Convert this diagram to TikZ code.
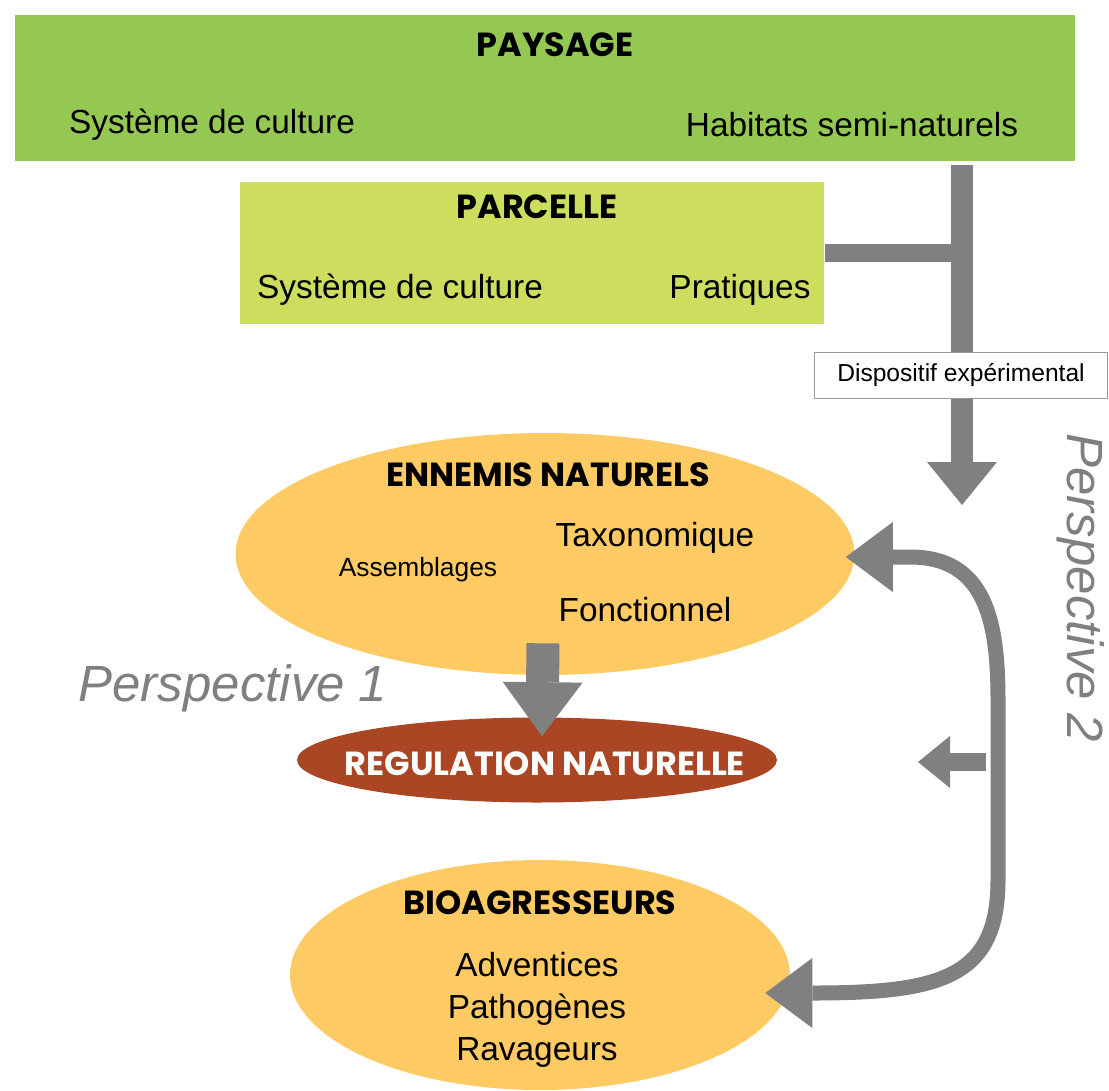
\documentclass[tikz,border=0pt]{standalone}
\usepackage{fontspec}
\setmainfont{Liberation Sans}
\newfontfamily\headfont{Poppins}
\usepackage{tikz}
\usetikzlibrary{shapes.geometric, arrows.meta, positioning, calc}
\definecolor{paysgreen}{RGB}{148, 200, 83}
\definecolor{parcgreen}{RGB}{205, 222, 95}
\definecolor{ennorange}{RGB}{253, 202, 100}
\definecolor{regulbrown}{RGB}{170, 70, 35}
\definecolor{arrowgrey}{RGB}{128, 128, 128}
\tikzstyle{level} = [rectangle, inner sep=0pt]
\tikzstyle{blob} = [ellipse, inner sep=0pt]
\tikzstyle{head} = [font=\headfont\bfseries\fontsize{19}{22}\selectfont]
\tikzstyle{item} = [font=\fontsize{19}{24}\selectfont, align=center]
\tikzstyle{persp} = [text=arrowgrey, font=\itshape\fontsize{29}{33}\selectfont]
\tikzstyle{trunk} = [arrowgrey, line width=0.44cm, -{Triangle[length=0.86cm, width=1.4cm, line width=0pt]}]
\tikzstyle{branch} = [arrowgrey, line width=0.36cm]
\tikzstyle{bigarrow} = [arrowgrey, line width=0.66cm, -{Triangle[length=1.08cm, width=1.6cm, line width=0pt]}]
\tikzstyle{smallarrow} = [arrowgrey, line width=0.36cm, -{Triangle[length=0.64cm, width=1.04cm, line width=0pt]}]
\tikzstyle{twoway} = [arrowgrey, line width=0.3cm, {Triangle[length=0.94cm, width=1.4cm, line width=0pt]}-{Triangle[length=0.94cm, width=1.4cm, line width=0pt]}]

\begin{document}
\begin{tikzpicture}[x=0.02cm, y=-0.02cm]
    \useasboundingbox (0,0) rectangle (1109,1090);

    % Paysage
    \node[level, fill=paysgreen, minimum width=21.2cm, minimum height=2.94cm] (paysage) at (545,88) {};
    \node[head] (paysT) at (555,45) {PAYSAGE};
    \node[item] (paysC) at (212,125) {Système de culture};
    \node[item] (paysH) at (852,125) {Habitats semi-naturels};

    % Parcelle
    \node[level, fill=parcgreen, minimum width=11.7cm, minimum height=2.86cm] (parcelle) at (532,253) {};
    \node[head] (parcT) at (537,207) {PARCELLE};
    \node[item] (parcC) at (400,290) {Système de culture};
    \node[item] (parcP) at (740,290) {Pratiques};

    % Dispositif
    \coordinate (top) at (962,165);
    \coordinate (tipA) at (962,505);
    \draw[trunk] (top) -- (tipA);
    \draw[branch] (parcelle.east) -- (parcelle.east -| top);
    \node[level, draw=arrowgrey!80, fill=white, minimum width=5.86cm, minimum height=0.92cm, font=\fontsize{14}{17}\selectfont] (dispo) at (961,375) {Dispositif expérimental};

    % Ennemis naturels
    \node[blob, fill=ennorange, minimum width=12.38cm, minimum height=4.84cm] (ennemis) at (545,554) {};
    \node[head] (ennT) at (548,475) {ENNEMIS NATURELS};
    \node[item] (ennTax) at (655,538) {Taxonomique};
    \node[font=\fontsize{15}{18}\selectfont] (ennAss) at (418,570) {Assemblages};
    \node[item] (ennFon) at (645,610) {Fonctionnel};

    % Regulation
    \node[blob, fill=regulbrown, minimum width=9.6cm, minimum height=1.7cm] (regul) at (537,760) {};
    \node[head, text=white] (regT) at (545,764) {REGULATION NATURELLE};
    \draw[bigarrow] ($(ennemis.south)+(-2,-32)$) -- ($(regul.north)+(5,19)$);

    % Bioagresseurs
    \node[blob, fill=ennorange, minimum width=10cm, minimum height=4.6cm] (bio) at (540,975) {};
    \node[head] (bioT) at (540,903) {BIOAGRESSEURS};
    \node[item] (bioL) at (537,1010) {Adventices\\Pathogènes\\Ravageurs};

    % Perspectives
    \node[persp] (p1) at (233,688) {Perspective 1};
    \node[persp, rotate=-90] (p2) at (1081,588) {Perspective 2};
    \draw[twoway] ($(ennemis.east)+(-9,3)$) -- (910,557) .. controls (985,557) and (998,620) .. (998,700) -- (998,880) .. controls (998,978) and (940,993) .. ($(bio.east)+(-25,18)$);
    \coordinate (sStart) at (986,762);
    \coordinate (sEnd) at (918,762);
    \draw[smallarrow] (sStart) -- (sEnd);
\end{tikzpicture}
\end{document}
